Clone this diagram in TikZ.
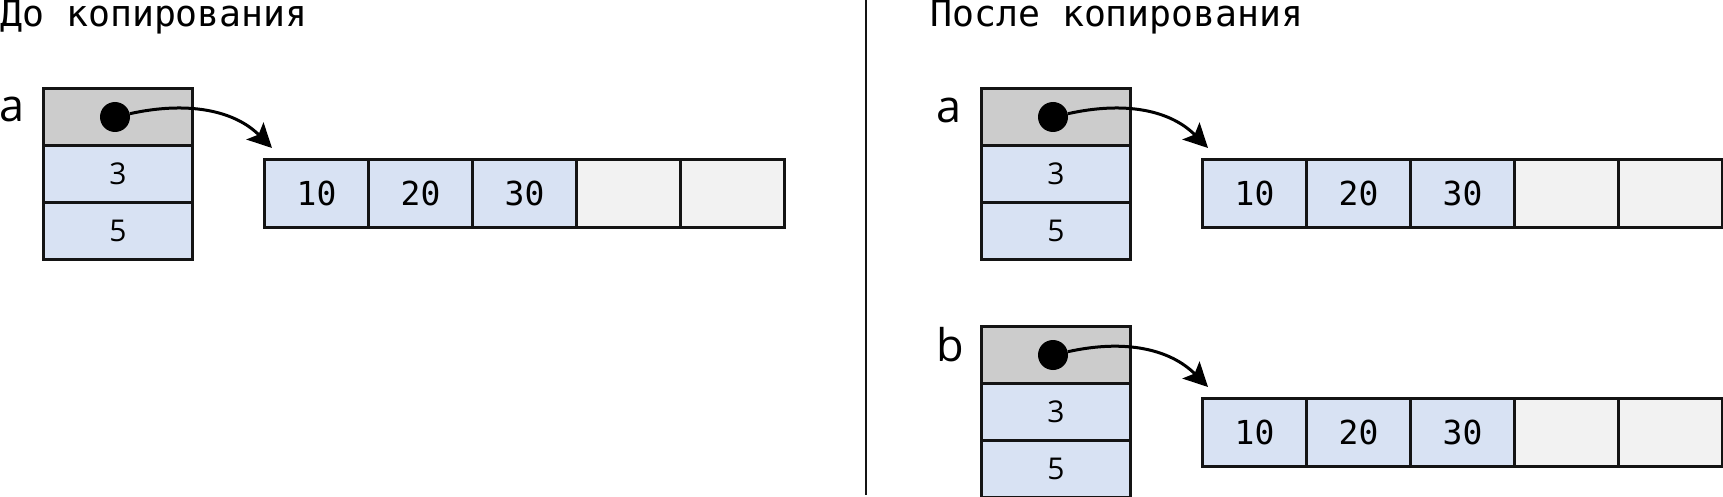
\documentclass[tikz,border=0pt]{standalone}
\usepackage{fontspec}
\setmainfont{Open Sans}
\newfontfamily\monof{DejaVu Sans Mono}
\usetikzlibrary{arrows.meta}
\definecolor{cgray}{HTML}{CCCCCC}
\definecolor{cblue}{HTML}{D8E2F3}
\definecolor{cempty}{HTML}{F2F2F2}
\definecolor{linec}{HTML}{141414}
\newcommand\ttlfont{\monof\fontsize{36.5}{40}\selectfont}
\newcommand\numfont{\monof\fontsize{33}{38}\selectfont}
\newcommand\fldfont{\fontsize{30}{34}\selectfont}
\newcommand\lblfont{\fontsize{45}{50}\selectfont}
\tikzset{
 cell/.style={draw=linec, line width=3pt, inner sep=0pt, anchor=north west, font=\numfont},
 hdr/.style={cell, fill=cgray, minimum width=149pt, minimum height=57pt},
 fld/.style={cell, fill=cblue, minimum width=149pt, minimum height=57pt, font=\fldfont},
 elem/.style={cell, fill=cblue, minimum width=104pt, minimum height=67.5pt},
 emptyc/.style={cell, fill=cempty, minimum width=104pt, minimum height=67.5pt},
 ptr/.style={circle, fill=black, inner sep=0pt, minimum size=30pt},
 arr/.style={draw=black, line width=3pt, -{Stealth[length=24pt,width=24pt,inset=5pt]}},
 lbl/.style={anchor=base west, font=\lblfont, inner sep=0pt},
 ttl/.style={anchor=base west, font=\ttlfont, inner sep=0pt},
 sepline/.style={draw=linec, line width=2.6pt},
}
\begin{document}
\begin{tikzpicture}[x=1pt,y=-1pt]
\useasboundingbox (0,0) rectangle (1723,497);
% titles
\node[ttl] (t1) at (0,27) {До копирования};
\node[ttl] (t2) at (930,27) {После копирования};
% separator
\coordinate (sepT) at (866,0);
\coordinate (sepB) at (866,495);
\draw[sepline] (sepT) -- (sepB);

% ---------- left: a ----------
\node[lbl] (la) at (-1,122) {a};
\node[hdr] (a0) at (42,87) {};
\node[fld] (a1) at (42,144) {3};
\node[fld] (a2) at (42,201) {5};
\node[elem] (A1) at (263,158.5) {10};
\node[elem] (A2) at (367,158.5) {20};
\node[elem] (A3) at (471,158.5) {30};
\node[emptyc] (A4) at (575,158.5) {};
\node[emptyc] (A5) at (679,158.5) {};
\node[ptr] (dA) at (115,117) {};
\coordinate (tA) at (272,148);
\draw[arr] (dA) .. controls +(72,-16) and +(-38,-38) .. (tA);

% ---------- right: a ----------
\node[lbl] (ra) at (936,123) {a};
\node[hdr] (b0) at (980,87) {};
\node[fld] (b1) at (980,144) {3};
\node[fld] (b2) at (980,201) {5};
\node[elem] (B1) at (1201,158.5) {10};
\node[elem] (B2) at (1305,158.5) {20};
\node[elem] (B3) at (1409,158.5) {30};
\node[emptyc] (B4) at (1513,158.5) {};
\node[emptyc] (B5) at (1617,158.5) {};
\node[ptr] (dB) at (1053,117) {};
\coordinate (tB) at (1208,148);
\draw[arr] (dB) .. controls +(72,-16) and +(-38,-38) .. (tB);

% ---------- right: b ----------
\node[lbl] (rb) at (936,361) {b};
\node[hdr] (c0) at (980,325) {};
\node[fld] (c1) at (980,382) {3};
\node[fld] (c2) at (980,438.5) {5};
\node[elem] (C1) at (1201,397) {10};
\node[elem] (C2) at (1305,397) {20};
\node[elem] (C3) at (1409,397) {30};
\node[emptyc] (C4) at (1513,397) {};
\node[emptyc] (C5) at (1617,397) {};
\node[ptr] (dC) at (1053,355) {};
\coordinate (tC) at (1208,387);
\draw[arr] (dC) .. controls +(72,-16) and +(-38,-38) .. (tC);
\end{tikzpicture}
\end{document}
